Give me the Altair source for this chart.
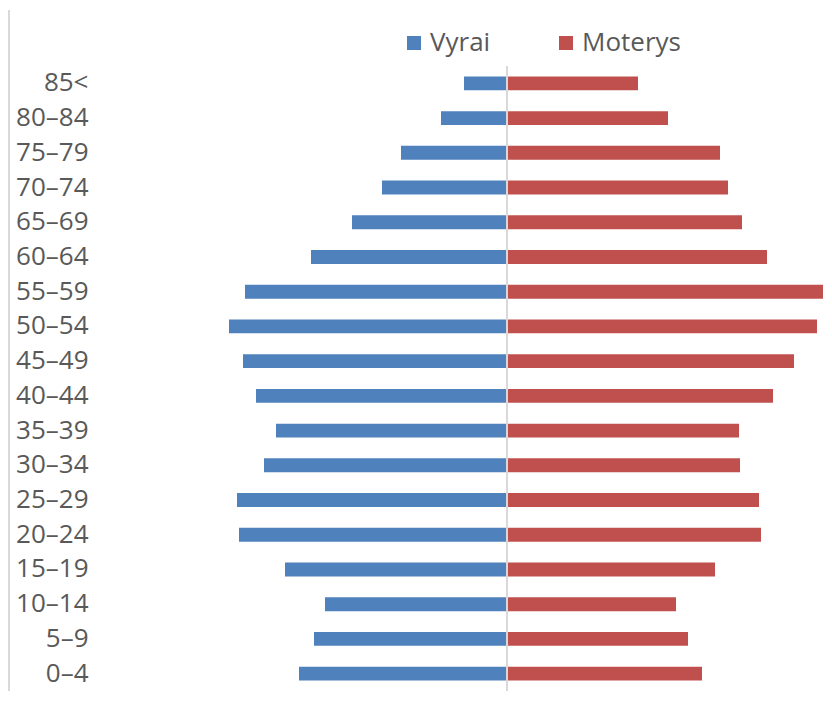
import altair as alt
import pandas as pd

ages = ["85<", "80–84", "75–79", "70–74", "65–69", "60–64", "55–59", "50–54",
        "45–49", "40–44", "35–39", "30–34", "25–29", "20–24", "15–19", "10–14",
        "5–9", "0–4"]
men = [43, 66, 106, 125, 155, 196, 262, 278, 264, 251, 231, 243, 270, 268, 222, 182, 193, 208]
women = [131, 161, 213, 221, 235, 260, 316, 310, 287, 266, 232, 233, 252, 254, 208, 169, 181, 195]
series = ["Vyrai", "Moterys"]
colors = ["#4f81bd", "#c0504d"]

df = pd.DataFrame({
    "age": ages * 2,
    "sex": [series[0]] * len(ages) + [series[1]] * len(ages),
    "value": [-m for m in men] + women,
})

FONT = "Open Sans"
TXT = "#595959"

bars = alt.Chart(df).mark_bar().encode(
    y=alt.Y("age:N", sort=ages,
            scale=alt.Scale(paddingInner=0.6, paddingOuter=0.3),
            axis=alt.Axis(title=None, domain=False, ticks=False, labelFont=FONT,
                          labelFontSize=26, labelColor=TXT, labelPadding=12)),
    x=alt.X("value:Q", scale=alt.Scale(domain=[-407, 317], nice=False, zero=False), axis=None),
    color=alt.Color("sex:N", scale=alt.Scale(domain=series, range=colors),
                    legend=alt.Legend(title=None, orient="none", legendX=301, legendY=-36,
                                      direction="horizontal", symbolType="square",
                                      symbolSize=196, symbolStrokeWidth=0,
                                      labelFont=FONT, labelFontSize=26, labelColor=TXT,
                                      columnPadding=62, labelOffset=3)),
)

center = alt.Chart(pd.DataFrame({"x": [0]})).mark_rule(color="#d9d9d9", strokeWidth=2).encode(
    x="x:Q"
)

border = alt.Chart(pd.DataFrame({"x": [0]})).mark_rule(color="#d9d9d9", strokeWidth=2).encode(
    x=alt.value(-91), y=alt.value(-56), y2=alt.value(625)
)

chart = alt.layer(bars, center, border).properties(
    width=724, height=625,
    autosize=alt.AutoSizeParams(type="none"),
    padding={"left": 92, "top": 58, "right": 0, "bottom": 0},
).configure_view(stroke=None)

chart.save("out.html", embed_options={"renderer": "svg", "actions": False})
